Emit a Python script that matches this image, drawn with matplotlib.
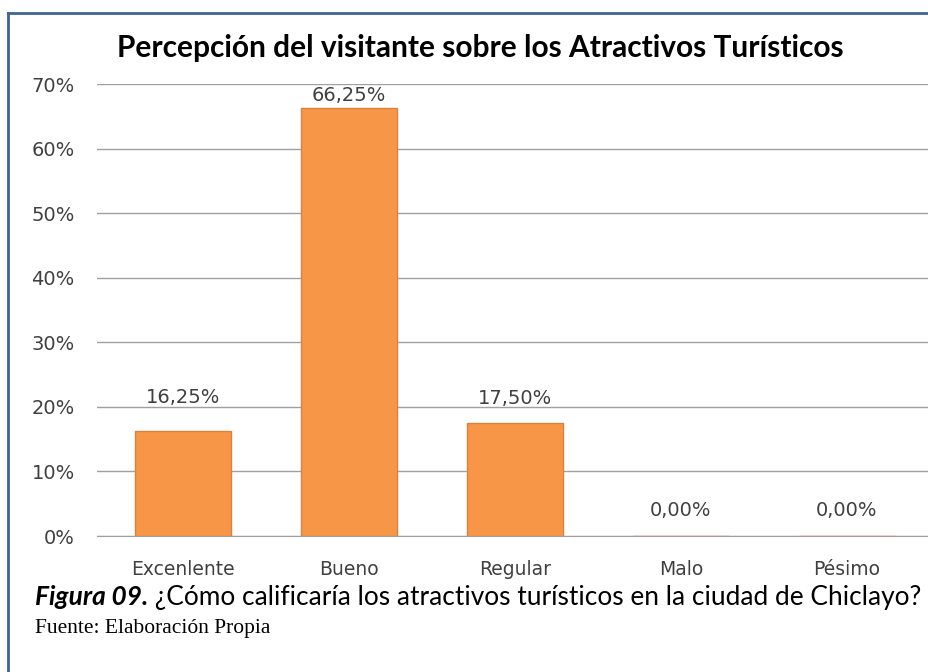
import matplotlib
matplotlib.use("Agg")
import matplotlib.pyplot as plt
from matplotlib.lines import Line2D

categories = ["Excenlente", "Bueno", "Regular", "Malo", "Pésimo"]
values = [16.25, 66.25, 17.50, 0.00, 0.00]
yticks = [0, 10, 20, 30, 40, 50, 60, 70]
title = "Percepción del visitante sobre los Atractivos Turísticos"
cap_bold = "Figura 09."
cap_text = " ¿Cómo calificaría los atractivos turísticos en la ciudad de Chiclayo?"
source = "Fuente: Elaboración Propia"
# label vertical offsets (points) above bar tops, as placed in the original
label_offsets = [24, 9.5, 18, 18, 18]

W, H = 929, 672
fig = plt.figure(figsize=(W / 100, H / 100), dpi=100)
fig.patch.set_facecolor("white")

ax = fig.add_axes([97 / W, 1 - 536 / H, (W - 97) / W, (536 - 84) / H])
x = list(range(len(categories)))
ax.bar(x, values, width=0.578, color="#F79646", edgecolor="#D9823F", linewidth=1.0, zorder=3)
ax.set_xlim(-0.518, 4.494)
ax.set_ylim(0, 70)
lab_font = "DejaVu Sans"
ax.set_yticks(yticks)
ax.set_yticklabels([f"{t}%" for t in yticks], fontsize=14, color="#404040", family=lab_font)
ax.set_xticks(x)
ax.set_xticklabels(categories, fontsize=13.5, color="#404040", family=lab_font)
ax.tick_params(axis="both", length=0)
ax.tick_params(axis="y", pad=16)
ax.tick_params(axis="x", pad=17)
ax.yaxis.grid(True, color="#A0A0A0", linewidth=1.0, zorder=0)
for s in ["top", "right", "left"]:
    ax.spines[s].set_visible(False)
ax.spines["bottom"].set_color("#A0A0A0")
ax.set_axisbelow(True)

for xi, v, off in zip(x, values, label_offsets):
    ax.annotate(f"{v:.2f}%".replace(".", ","), (xi, v), xytext=(0, off), textcoords="offset points",
                ha="center", va="center", fontsize=14, color="#404040", family=lab_font)

fig.text(480 / W, 1 - 48 / H, title, ha="center", va="center", fontsize=21.5,
         fontweight="bold", family="Lato", color="black")

t1 = fig.text(35 / W, 1 - 597 / H, cap_bold, ha="left", va="center", fontsize=18.9,
              fontweight="bold", style="italic", family="Lato", color="black")
fig.canvas.draw()
bb = t1.get_window_extent()
fig.text(bb.x1 / W, 1 - 597 / H, cap_text, ha="left", va="center", fontsize=18.9,
         family="Lato", color="black")
fig.text(35 / W, 1 - 629 / H, source, ha="left", va="center", fontsize=15.5,
         family="Liberation Serif", color="black")

# border
fig.add_artist(Line2D([8 / W, 1.0], [1 - 13 / H, 1 - 13 / H], color="#3F6592", linewidth=2, transform=fig.transFigure))
fig.add_artist(Line2D([8 / W, 8 / W], [1 - 13 / H, 0], color="#3F6592", linewidth=2, transform=fig.transFigure))

fig.savefig("out.png", dpi=100)
